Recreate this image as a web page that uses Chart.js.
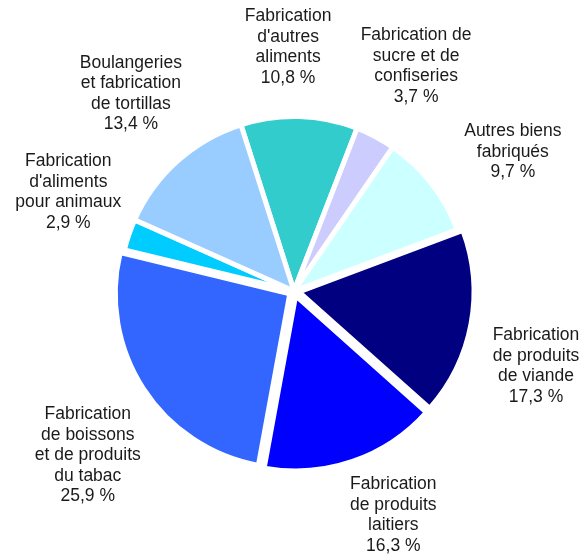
<!DOCTYPE html>
<html lang="fr">
<head>
<meta charset="utf-8">
<title>Fabrication d'aliments</title>
<script src="https://cdn.jsdelivr.net/npm/chart.js@4.4.1/dist/chart.umd.min.js"></script>
<style>
  html, body { margin: 0; padding: 0; background: #fff; }
  canvas { display: block; }
</style>
</head>
<body>
<canvas id="graphique" width="585" height="556"></canvas>
<script>
// ======== DONNÉES ========
const categories = [
  ["Fabrication", "d'autres", "aliments"],
  ["Fabrication de", "sucre et de", "confiseries"],
  ["Autres biens", "fabriqués"],
  ["Fabrication", "de produits", "de viande"],
  ["Fabrication", "de produits", "laitiers"],
  ["Fabrication", "de boissons", "et de produits", "du tabac"],
  ["Fabrication", "d'aliments", "pour animaux"],
  ["Boulangeries", "et fabrication", "de tortillas"]
];
const parts = [10.8, 3.7, 9.7, 17.3, 16.3, 25.9, 2.9, 13.4];

// ======== STYLE ========
const couleurs = ['#33cccc', '#ccccff', '#ccffff', '#000080', '#0000ff', '#3366ff', '#00ccff', '#99ccff'];
const decalage = [0, 0, 0, 5, 5, 5, 0, 0]; // px, parts détachées
// petits ajustements [dx, dy] des étiquettes (comme dans l'original)
const ajustEtiquettes = [[-17, -11], [-23, -14], [19, 10], [5, 9], [-8, -3], [12, 6], [9, 4], [16, -13]];

function formatPct(v) {
  return v.toFixed(1).replace('.', ',') + ' %';
}

// ======== ÉTIQUETTES ========
const etiquettes = {
  id: 'etiquettes',
  afterDatasetsDraw(chart) {
    const ctx = chart.ctx;
    const meta = chart.getDatasetMeta(0);
    const lh = 20.5;
    ctx.save();
    ctx.font = '17.5px "Liberation Sans", Arial, sans-serif';
    ctx.fillStyle = '#1a1a1a';
    ctx.textAlign = 'center';
    ctx.textBaseline = 'middle';
    meta.data.forEach((arc, i) => {
      const p = arc.getProps(['x', 'y', 'startAngle', 'endAngle', 'outerRadius'], true);
      const mid = (p.startAngle + p.endAngle) / 2;
      const ux = Math.cos(mid), uy = Math.sin(mid);
      const lignes = [...categories[i], formatPct(parts[i])];
      const halfW = Math.max(...lignes.map(l => ctx.measureText(l).width)) / 2;
      const halfH = lignes.length * lh / 2;
      const d = p.outerRadius + decalage[i] + 17.5;
      const cx = p.x + ux * d + Math.sign(ux) * halfW * Math.min(1, Math.abs(ux) * 4) + ajustEtiquettes[i][0];
      const cy = p.y + uy * d + Math.sign(uy) * halfH * Math.min(1, Math.abs(uy) * 4) + ajustEtiquettes[i][1];
      lignes.forEach((l, k) => ctx.fillText(l, cx, cy + (k - (lignes.length - 1) / 2) * lh));
    });
    ctx.restore();
  }
};

// ======== GRAPHIQUE ========
const ctx = document.getElementById('graphique').getContext('2d');
new Chart(ctx, {
  type: 'pie',
  data: {
    labels: categories,
    datasets: [{
      data: parts,
      backgroundColor: couleurs,
      borderColor: '#fff',
      borderWidth: 5,
      offset: decalage.map(v => v * 4), // Chart.js divise l'offset par 4
      hoverOffset: 0
    }]
  },
  options: {
    responsive: false,
    animation: false,
    rotation: -17.7,
    radius: 174.5,
    layout: { padding: { top: 26, bottom: 0, left: 3, right: 0 } },
    plugins: {
      legend: { display: false },
      tooltip: { enabled: false }
    }
  },
  plugins: [etiquettes]
});
</script>
</body>
</html>
